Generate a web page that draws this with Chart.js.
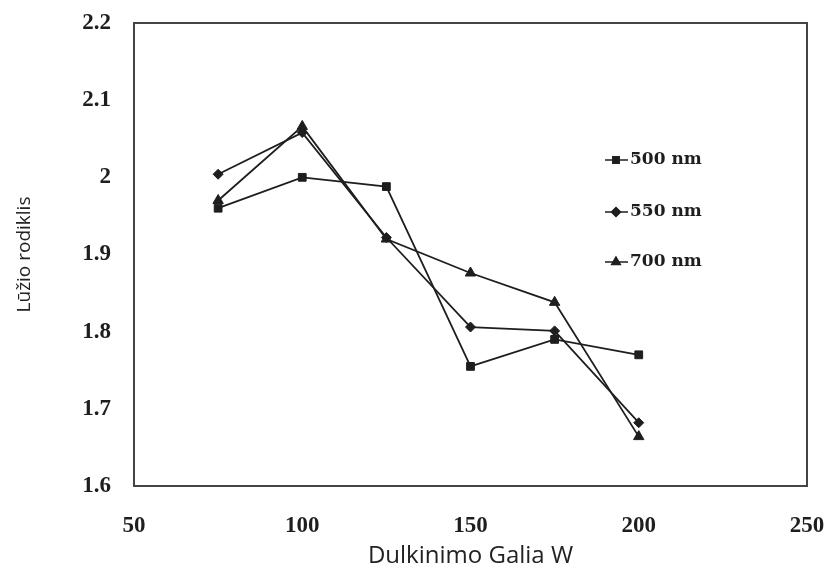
<!DOCTYPE html>
<html>
<head>
<meta charset="utf-8">
<script src="https://cdn.jsdelivr.net/npm/chart.js@4.4.0/dist/chart.umd.min.js"></script>
<style>
  html, body { margin: 0; padding: 0; background: #fff; }
  #wrap { width: 836px; height: 575px; }
</style>
</head>
<body>
<div id="wrap"><canvas id="grafikas" width="836" height="575"></canvas></div>
<script>
// Duomenys
const galia = [75, 100, 125, 150, 175, 200];
const n500 = [1.96, 2.0, 1.988, 1.755, 1.79, 1.77];
const n550 = [2.004, 2.058, 1.922, 1.806, 1.801, 1.682];
const n700 = [1.97, 2.066, 1.92, 1.876, 1.838, 1.664];
const xTicks = [50, 100, 150, 200, 250];
const yTicks = [1.6, 1.7, 1.8, 1.9, 2, 2.1, 2.2];
const legendos = ["500 nm", "550 nm", "700 nm"];

const spalva = "#1e1e1e";

function taskai(values) {
    return galia.map((x, i) => ({ x: x, y: values[i] }));
}

// remelis aplink grafiko sriti + legenda viduje
const remelis = {
    id: "remelis",
    afterDraw(chart) {
        const ctx = chart.ctx;
        const a = chart.chartArea;
        ctx.save();
        ctx.strokeStyle = "#444";
        ctx.lineWidth = 2;
        ctx.strokeRect(a.left, a.top, a.right - a.left, a.bottom - a.top);

        // legenda
        const stiliai = [
            { style: "rect", r: 4.5, y: 160 },
            { style: "rectRot", r: 4.5, y: 212 },
            { style: "triangle", r: 5, y: 262 }
        ];
        ctx.font = "bold 17px 'DejaVu Serif'";
        ctx.textBaseline = "middle";
        stiliai.forEach((it, i) => {
            ctx.strokeStyle = spalva;
            ctx.lineWidth = 1.5;
            ctx.beginPath();
            ctx.moveTo(605, it.y);
            ctx.lineTo(628, it.y);
            ctx.stroke();
            Chart.helpers.drawPoint(ctx, { pointStyle: it.style, radius: it.r, borderWidth: 1 }, 616, it.y);
            ctx.fillStyle = spalva;
            ctx.fill();
            ctx.fillText(legendos[i], 630, it.y);
        });
        ctx.restore();
    }
};

const ds = (label, values, style, r) => ({
    label: label,
    data: taskai(values),
    borderColor: spalva,
    backgroundColor: spalva,
    borderWidth: 1.8,
    pointStyle: style,
    pointRadius: r,
    pointBorderWidth: 1,
    tension: 0
});

new Chart(document.getElementById("grafikas"), {
    type: "line",
    data: {
        datasets: [
            ds(legendos[0], n500, "rect", 5.5),
            ds(legendos[1], n550, "rectRot", 5),
            ds(legendos[2], n700, "triangle", 6)
        ]
    },
    options: {
        responsive: false,
        animation: false,
        layout: { padding: { left: 0, right: 29, top: 23, bottom: 0 } },
        plugins: {
            legend: { display: false },
            tooltip: { enabled: false }
        },
        scales: {
            x: {
                type: "linear",
                min: 50,
                max: 250,
                afterBuildTicks: s => { s.ticks = xTicks.map(v => ({ value: v })); },
                afterFit: s => { s.height = 89; s.paddingLeft = 0; s.paddingRight = 0; },
                grid: { display: false },
                border: { display: false },
                ticks: {
                    color: spalva,
                    padding: 18,
                    font: { family: "'Liberation Serif'", size: 23, weight: "bold" }
                },
                title: {
                    display: true,
                    text: "Dulkinimo Galia W",
                    color: "#222",
                    font: { family: "'Open Sans'", size: 24 },
                    padding: { top: 0, bottom: 4 }
                }
            },
            y: {
                min: 1.6,
                max: 2.2,
                afterBuildTicks: s => { s.ticks = yTicks.map(v => ({ value: v })); },
                afterFit: s => { s.width = 134; s.paddingTop = 0; s.paddingBottom = 0; },
                grid: { display: false },
                border: { display: false },
                ticks: {
                    color: spalva,
                    padding: 15,
                    callback: v => String(+v.toFixed(1)),
                    font: { family: "'Liberation Serif'", size: 23, weight: "bold" }
                },
                title: {
                    display: true,
                    text: "Lūžio rodiklis",
                    color: "#222",
                    font: { family: "'Open Sans'", size: 19 },
                    padding: { top: 13, bottom: 0 }
                }
            }
        }
    },
    plugins: [remelis]
});
</script>
</body>
</html>
